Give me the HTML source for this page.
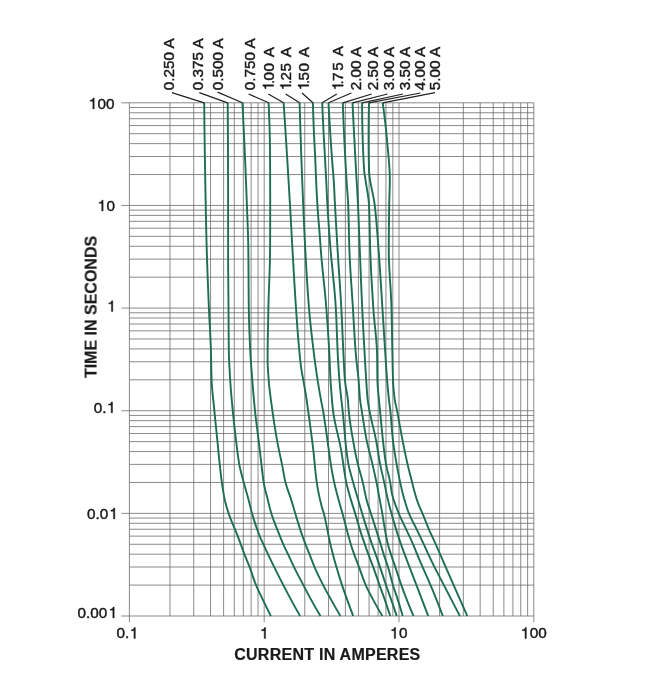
<!DOCTYPE html>
<html><head><meta charset="utf-8"><title>Time-current curves</title>
<style>
html,body{margin:0;padding:0;background:#fff;}
body{width:657px;height:694px;overflow:hidden;font-family:"Liberation Sans",sans-serif;}
svg{display:block;}
</style></head><body>
<svg width="657" height="694" viewBox="0 0 657 694">
<rect width="657" height="694" fill="#fff"/>
<path d="M129.4 102.8 V622.2 M169.98 102.8 V616 M193.72 102.8 V616 M210.56 102.8 V616 M223.62 102.8 V616 M234.29 102.8 V616 M243.32 102.8 V616 M251.14 102.8 V616 M258.03 102.8 V616 M264.2 102.8 V622.2 M304.78 102.8 V616 M328.52 102.8 V616 M345.36 102.8 V616 M358.42 102.8 V616 M369.09 102.8 V616 M378.12 102.8 V616 M385.94 102.8 V616 M392.83 102.8 V616 M399 102.8 V622.2 M439.58 102.8 V616 M463.32 102.8 V616 M480.16 102.8 V616 M493.22 102.8 V616 M503.89 102.8 V616 M512.92 102.8 V616 M520.74 102.8 V616 M527.63 102.8 V616 M533.8 102.8 V622.2 M121.4 102.8 H533.8 M129.4 107.5 H533.8 M129.4 112.75 H533.8 M129.4 118.7 H533.8 M129.4 125.57 H533.8 M129.4 133.7 H533.8 M129.4 143.64 H533.8 M129.4 156.47 H533.8 M129.4 174.54 H533.8 M121.4 205.44 H533.8 M129.4 210.14 H533.8 M129.4 215.39 H533.8 M129.4 221.34 H533.8 M129.4 228.21 H533.8 M129.4 236.34 H533.8 M129.4 246.28 H533.8 M129.4 259.11 H533.8 M129.4 277.18 H533.8 M121.4 308.08 H533.8 M129.4 312.78 H533.8 M129.4 318.03 H533.8 M129.4 323.98 H533.8 M129.4 330.85 H533.8 M129.4 338.98 H533.8 M129.4 348.92 H533.8 M129.4 361.75 H533.8 M129.4 379.82 H533.8 M121.4 410.72 H533.8 M129.4 415.42 H533.8 M129.4 420.67 H533.8 M129.4 426.62 H533.8 M129.4 433.49 H533.8 M129.4 441.62 H533.8 M129.4 451.56 H533.8 M129.4 464.39 H533.8 M129.4 482.46 H533.8 M121.4 513.36 H533.8 M129.4 518.06 H533.8 M129.4 523.31 H533.8 M129.4 529.26 H533.8 M129.4 536.13 H533.8 M129.4 544.26 H533.8 M129.4 554.2 H533.8 M129.4 567.03 H533.8 M129.4 585.1 H533.8 M121.4 616 H533.8" fill="none" stroke="#686868" stroke-width="0.78"/>
<path d="M204.2 102.6 L204.24 106.6 L204.27 110.6 L204.31 114.6 L204.36 118.6 L204.4 122.6 L204.45 126.6 L204.5 130.6 L204.55 134.6 L204.6 138.6 L204.66 142.6 L204.72 146.6 L204.77 150.6 L204.83 154.6 L204.9 158.6 L204.96 162.6 L205.02 166.6 L205.09 170.6 L205.16 174.6 L205.23 178.6 L205.3 182.6 L205.37 186.6 L205.44 190.6 L205.51 194.6 L205.58 198.6 L205.66 202.6 L205.73 206.6 L205.81 210.6 L205.89 214.6 L205.97 218.6 L206.06 222.6 L206.15 226.6 L206.25 230.6 L206.34 234.6 L206.45 238.6 L206.55 242.6 L206.66 246.6 L206.77 250.6 L206.89 254.6 L207.02 258.6 L207.15 262.6 L207.29 266.6 L207.43 270.6 L207.57 274.6 L207.72 278.6 L207.87 282.6 L208.03 286.6 L208.19 290.6 L208.35 294.6 L208.51 298.6 L208.68 302.6 L208.84 306.6 L209.01 310.6 L209.2 314.6 L209.4 318.6 L209.61 322.6 L209.83 326.6 L210.04 330.6 L210.25 334.6 L210.45 338.6 L210.63 342.6 L210.79 346.6 L210.92 350.6 L211.02 354.6 L211.11 358.6 L211.18 362.6 L211.26 366.6 L211.33 370.6 L211.43 374.6 L211.55 378.6 L211.72 382.6 L211.98 386.6 L212.31 390.6 L212.69 394.6 L213.11 398.6 L213.54 402.6 L213.96 406.6 L214.36 410.6 L214.74 414.6 L215.14 418.6 L215.54 422.6 L215.94 426.6 L216.35 430.6 L216.76 434.6 L217.16 438.6 L217.56 442.6 L217.95 446.6 L218.34 450.6 L218.73 454.6 L219.13 458.6 L219.54 462.6 L219.97 466.6 L220.41 470.6 L220.87 474.6 L221.35 478.6 L221.88 482.6 L222.45 486.6 L223.07 490.6 L223.74 494.6 L224.51 498.6 L225.4 502.6 L226.49 506.6 L227.72 510.6 L229.04 514.6 L230.53 518.6 L232.15 522.6 L233.84 526.6 L235.53 530.6 L237.14 534.6 L238.67 538.6 L240.17 542.6 L241.64 546.6 L243.09 550.6 L244.58 554.6 L246.18 558.6 L247.84 562.6 L249.45 566.6 L250.91 570.6 L252.27 574.6 L253.63 578.6 L255.06 582.6 L256.67 586.6 L258.46 590.6 L260.37 594.6 L262.32 598.6 L264.25 602.6 L266.2 606.6 L268.18 610.6 L270.19 614.6 L270.9 616" fill="none" stroke="#1d6e52" stroke-width="1.9" stroke-linejoin="round"/>
<path d="M227.7 102.6 L227.73 106.6 L227.75 110.6 L227.78 114.6 L227.8 118.6 L227.83 122.6 L227.85 126.6 L227.87 130.6 L227.89 134.6 L227.91 138.6 L227.93 142.6 L227.95 146.6 L227.97 150.6 L227.99 154.6 L228 158.6 L228.02 162.6 L228.03 166.6 L228.05 170.6 L228.06 174.6 L228.07 178.6 L228.08 182.6 L228.08 186.6 L228.09 190.6 L228.09 194.6 L228.1 198.6 L228.1 202.6 L228.1 206.6 L228.1 210.6 L228.1 214.6 L228.1 218.6 L228.1 222.6 L228.1 226.6 L228.1 230.6 L228.1 234.6 L228.1 238.6 L228.1 242.6 L228.1 246.6 L228.1 250.6 L228.11 254.6 L228.12 258.6 L228.14 262.6 L228.16 266.6 L228.19 270.6 L228.22 274.6 L228.25 278.6 L228.29 282.6 L228.32 286.6 L228.36 290.6 L228.39 294.6 L228.43 298.6 L228.46 302.6 L228.49 306.6 L228.52 310.6 L228.54 314.6 L228.56 318.6 L228.58 322.6 L228.61 326.6 L228.63 330.6 L228.65 334.6 L228.68 338.6 L228.72 342.6 L228.76 346.6 L228.81 350.6 L228.9 354.6 L229.03 358.6 L229.2 362.6 L229.41 366.6 L229.63 370.6 L229.87 374.6 L230.12 378.6 L230.36 382.6 L230.64 386.6 L230.95 390.6 L231.28 394.6 L231.64 398.6 L232 402.6 L232.38 406.6 L232.76 410.6 L233.15 414.6 L233.56 418.6 L233.98 422.6 L234.43 426.6 L234.88 430.6 L235.35 434.6 L235.83 438.6 L236.31 442.6 L236.79 446.6 L237.28 450.6 L237.8 454.6 L238.36 458.6 L238.99 462.6 L239.7 466.6 L240.59 470.6 L241.61 474.6 L242.69 478.6 L243.76 482.6 L244.85 486.6 L245.98 490.6 L247.12 494.6 L248.23 498.6 L249.26 502.6 L250.24 506.6 L251.24 510.6 L252.36 514.6 L253.57 518.6 L254.85 522.6 L256.21 526.6 L257.64 530.6 L259.14 534.6 L260.81 538.6 L262.62 542.6 L264.45 546.6 L266.31 550.6 L268.19 554.6 L270.11 558.6 L272.04 562.6 L274 566.6 L275.99 570.6 L277.99 574.6 L280.02 578.6 L282.06 582.6 L284.13 586.6 L286.21 590.6 L288.31 594.6 L290.45 598.6 L292.61 602.6 L294.81 606.6 L297.04 610.6 L299.3 614.6 L300.1 616" fill="none" stroke="#1d6e52" stroke-width="1.9" stroke-linejoin="round"/>
<path d="M242.4 102.6 L242.61 106.6 L242.81 110.6 L243.01 114.6 L243.21 118.6 L243.41 122.6 L243.6 126.6 L243.79 130.6 L243.98 134.6 L244.16 138.6 L244.35 142.6 L244.53 146.6 L244.71 150.6 L244.88 154.6 L245.05 158.6 L245.23 162.6 L245.39 166.6 L245.56 170.6 L245.72 174.6 L245.89 178.6 L246.05 182.6 L246.2 186.6 L246.36 190.6 L246.51 194.6 L246.66 198.6 L246.81 202.6 L246.96 206.6 L247.11 210.6 L247.27 214.6 L247.42 218.6 L247.58 222.6 L247.73 226.6 L247.87 230.6 L248 234.6 L248.11 238.6 L248.2 242.6 L248.28 246.6 L248.33 250.6 L248.38 254.6 L248.42 258.6 L248.45 262.6 L248.48 266.6 L248.51 270.6 L248.53 274.6 L248.55 278.6 L248.58 282.6 L248.6 286.6 L248.63 290.6 L248.66 294.6 L248.69 298.6 L248.73 302.6 L248.78 306.6 L248.84 310.6 L248.92 314.6 L249.01 318.6 L249.12 322.6 L249.25 326.6 L249.39 330.6 L249.54 334.6 L249.7 338.6 L249.87 342.6 L250.05 346.6 L250.23 350.6 L250.44 354.6 L250.68 358.6 L250.96 362.6 L251.25 366.6 L251.56 370.6 L251.88 374.6 L252.19 378.6 L252.5 382.6 L252.82 386.6 L253.14 390.6 L253.47 394.6 L253.82 398.6 L254.18 402.6 L254.56 406.6 L254.96 410.6 L255.4 414.6 L255.87 418.6 L256.37 422.6 L256.89 426.6 L257.41 430.6 L257.93 434.6 L258.43 438.6 L258.91 442.6 L259.37 446.6 L259.83 450.6 L260.29 454.6 L260.75 458.6 L261.21 462.6 L261.69 466.6 L262.14 470.6 L262.59 474.6 L263.1 478.6 L263.7 482.6 L264.48 486.6 L265.41 490.6 L266.42 494.6 L267.45 498.6 L268.44 502.6 L269.43 506.6 L270.5 510.6 L271.7 514.6 L273.07 518.6 L274.56 522.6 L276.13 526.6 L277.74 530.6 L279.34 534.6 L280.93 538.6 L282.57 542.6 L284.34 546.6 L286.27 550.6 L288.19 554.6 L290.05 558.6 L291.9 562.6 L293.8 566.6 L295.79 570.6 L297.84 574.6 L299.93 578.6 L302.04 582.6 L304.14 586.6 L306.25 590.6 L308.37 594.6 L310.53 598.6 L312.74 602.6 L314.98 606.6 L317.26 610.6 L319.58 614.6 L320.4 616" fill="none" stroke="#1d6e52" stroke-width="1.9" stroke-linejoin="round"/>
<path d="M268.6 102.6 L268.77 106.6 L268.93 110.6 L269.09 114.6 L269.24 118.6 L269.38 122.6 L269.52 126.6 L269.64 130.6 L269.75 134.6 L269.84 138.6 L269.91 142.6 L269.97 146.6 L270 150.6 L270.03 154.6 L270.05 158.6 L270.08 162.6 L270.1 166.6 L270.12 170.6 L270.13 174.6 L270.15 178.6 L270.16 182.6 L270.17 186.6 L270.18 190.6 L270.19 194.6 L270.2 198.6 L270.2 202.6 L270.2 206.6 L270.2 210.6 L270.19 214.6 L270.19 218.6 L270.18 222.6 L270.17 226.6 L270.16 230.6 L270.15 234.6 L270.14 238.6 L270.12 242.6 L270.11 246.6 L270.08 250.6 L270.03 254.6 L269.96 258.6 L269.87 262.6 L269.75 266.6 L269.63 270.6 L269.49 274.6 L269.35 278.6 L269.2 282.6 L269.05 286.6 L268.9 290.6 L268.77 294.6 L268.64 298.6 L268.53 302.6 L268.43 306.6 L268.35 310.6 L268.26 314.6 L268.18 318.6 L268.1 322.6 L268.01 326.6 L267.93 330.6 L267.86 334.6 L267.79 338.6 L267.73 342.6 L267.68 346.6 L267.64 350.6 L267.61 354.6 L267.6 358.6 L267.63 362.6 L267.77 366.6 L268.01 370.6 L268.29 374.6 L268.6 378.6 L268.91 382.6 L269.29 386.6 L269.73 390.6 L270.22 394.6 L270.74 398.6 L271.28 402.6 L271.83 406.6 L272.38 410.6 L272.94 414.6 L273.52 418.6 L274.12 422.6 L274.74 426.6 L275.39 430.6 L276.06 434.6 L276.75 438.6 L277.48 442.6 L278.26 446.6 L279.08 450.6 L279.93 454.6 L280.78 458.6 L281.62 462.6 L282.41 466.6 L283.14 470.6 L283.86 474.6 L284.64 478.6 L285.55 482.6 L286.71 486.6 L288.06 490.6 L289.49 494.6 L290.86 498.6 L292.08 502.6 L293.24 506.6 L294.39 510.6 L295.59 514.6 L296.81 518.6 L298.05 522.6 L299.32 526.6 L300.62 530.6 L301.96 534.6 L303.37 538.6 L304.85 542.6 L306.41 546.6 L308.05 550.6 L309.68 554.6 L311.21 558.6 L312.73 562.6 L314.33 566.6 L316.08 570.6 L317.94 574.6 L319.88 578.6 L321.88 582.6 L323.93 586.6 L326.07 590.6 L328.28 594.6 L330.52 598.6 L332.75 602.6 L335.01 606.6 L337.29 610.6 L339.59 614.6 L340.4 616" fill="none" stroke="#1d6e52" stroke-width="1.9" stroke-linejoin="round"/>
<path d="M283.6 102.6 L283.87 106.6 L284.14 110.6 L284.4 114.6 L284.66 118.6 L284.93 122.6 L285.19 126.6 L285.44 130.6 L285.7 134.6 L285.96 138.6 L286.21 142.6 L286.46 146.6 L286.71 150.6 L286.96 154.6 L287.21 158.6 L287.46 162.6 L287.71 166.6 L287.95 170.6 L288.19 174.6 L288.43 178.6 L288.67 182.6 L288.91 186.6 L289.15 190.6 L289.39 194.6 L289.62 198.6 L289.86 202.6 L290.09 206.6 L290.32 210.6 L290.55 214.6 L290.77 218.6 L290.99 222.6 L291.2 226.6 L291.42 230.6 L291.64 234.6 L291.86 238.6 L292.08 242.6 L292.31 246.6 L292.53 250.6 L292.76 254.6 L292.99 258.6 L293.22 262.6 L293.45 266.6 L293.68 270.6 L293.91 274.6 L294.15 278.6 L294.38 282.6 L294.63 286.6 L294.87 290.6 L295.12 294.6 L295.37 298.6 L295.64 302.6 L295.9 306.6 L296.18 310.6 L296.45 314.6 L296.73 318.6 L297.02 322.6 L297.31 326.6 L297.61 330.6 L297.91 334.6 L298.23 338.6 L298.57 342.6 L298.91 346.6 L299.28 350.6 L299.66 354.6 L300.07 358.6 L300.52 362.6 L301.03 366.6 L301.59 370.6 L302.29 374.6 L303.05 378.6 L303.76 382.6 L304.46 386.6 L305.15 390.6 L305.79 394.6 L306.41 398.6 L306.99 402.6 L307.56 406.6 L308.13 410.6 L308.69 414.6 L309.24 418.6 L309.78 422.6 L310.31 426.6 L310.84 430.6 L311.37 434.6 L311.89 438.6 L312.4 442.6 L312.9 446.6 L313.37 450.6 L313.8 454.6 L314.2 458.6 L314.58 462.6 L314.96 466.6 L315.35 470.6 L315.77 474.6 L316.25 478.6 L316.79 482.6 L317.41 486.6 L318.12 490.6 L318.92 494.6 L319.78 498.6 L320.71 502.6 L321.74 506.6 L323 510.6 L324.1 514.6 L325.05 518.6 L325.92 522.6 L326.74 526.6 L327.54 530.6 L328.33 534.6 L329.15 538.6 L330.01 542.6 L330.94 546.6 L331.93 550.6 L332.95 554.6 L334.02 558.6 L335.13 562.6 L336.28 566.6 L337.47 570.6 L338.68 574.6 L339.93 578.6 L341.21 582.6 L342.54 586.6 L343.92 590.6 L345.35 594.6 L346.79 598.6 L348.24 602.6 L349.7 606.6 L351.18 610.6 L352.67 614.6 L353.2 616" fill="none" stroke="#1d6e52" stroke-width="1.9" stroke-linejoin="round"/>
<path d="M299.6 102.6 L299.71 106.6 L299.82 110.6 L299.94 114.6 L300.06 118.6 L300.18 122.6 L300.31 126.6 L300.43 130.6 L300.56 134.6 L300.7 138.6 L300.83 142.6 L300.97 146.6 L301.11 150.6 L301.25 154.6 L301.4 158.6 L301.54 162.6 L301.69 166.6 L301.84 170.6 L301.99 174.6 L302.15 178.6 L302.3 182.6 L302.46 186.6 L302.62 190.6 L302.78 194.6 L302.94 198.6 L303.1 202.6 L303.27 206.6 L303.43 210.6 L303.6 214.6 L303.78 218.6 L303.95 222.6 L304.14 226.6 L304.32 230.6 L304.52 234.6 L304.71 238.6 L304.91 242.6 L305.12 246.6 L305.33 250.6 L305.55 254.6 L305.77 258.6 L305.99 262.6 L306.21 266.6 L306.44 270.6 L306.68 274.6 L306.93 278.6 L307.18 282.6 L307.44 286.6 L307.71 290.6 L307.98 294.6 L308.27 298.6 L308.57 302.6 L308.89 306.6 L309.22 310.6 L309.57 314.6 L309.95 318.6 L310.35 322.6 L310.76 326.6 L311.2 330.6 L311.65 334.6 L312.11 338.6 L312.59 342.6 L313.07 346.6 L313.56 350.6 L314.05 354.6 L314.56 358.6 L315.08 362.6 L315.63 366.6 L316.2 370.6 L316.78 374.6 L317.39 378.6 L318.01 382.6 L318.66 386.6 L319.33 390.6 L320.03 394.6 L320.75 398.6 L321.49 402.6 L322.29 406.6 L323.03 410.6 L323.7 414.6 L324.33 418.6 L324.93 422.6 L325.52 426.6 L326.09 430.6 L326.65 434.6 L327.2 438.6 L327.75 442.6 L328.31 446.6 L328.89 450.6 L329.44 454.6 L330 458.6 L330.58 462.6 L331.22 466.6 L331.9 470.6 L332.63 474.6 L333.4 478.6 L334.23 482.6 L335.14 486.6 L336.12 490.6 L337.17 494.6 L338.24 498.6 L339.34 502.6 L340.45 506.6 L341.61 510.6 L342.75 514.6 L343.83 518.6 L344.88 522.6 L345.92 526.6 L346.96 530.6 L348.03 534.6 L349.13 538.6 L350.29 542.6 L351.52 546.6 L352.86 550.6 L354.27 554.6 L355.76 558.6 L357.31 562.6 L358.85 566.6 L360.32 570.6 L361.73 574.6 L363.17 578.6 L364.7 582.6 L366.41 586.6 L368.34 590.6 L370.41 594.6 L372.55 598.6 L374.7 602.6 L376.9 606.6 L379.16 610.6 L381.48 614.6 L382.3 616" fill="none" stroke="#1d6e52" stroke-width="1.9" stroke-linejoin="round"/>
<path d="M312.9 102.6 L313.01 106.6 L313.13 110.6 L313.25 114.6 L313.39 118.6 L313.53 122.6 L313.68 126.6 L313.85 130.6 L314.03 134.6 L314.23 138.6 L314.43 142.6 L314.64 146.6 L314.85 150.6 L315.05 154.6 L315.24 158.6 L315.41 162.6 L315.57 166.6 L315.72 170.6 L315.87 174.6 L316.04 178.6 L316.22 182.6 L316.41 186.6 L316.6 190.6 L316.81 194.6 L317.03 198.6 L317.26 202.6 L317.5 206.6 L317.77 210.6 L318.07 214.6 L318.38 218.6 L318.71 222.6 L319.04 226.6 L319.37 230.6 L319.69 234.6 L320 238.6 L320.28 242.6 L320.55 246.6 L320.85 250.6 L321.18 254.6 L321.53 258.6 L321.9 262.6 L322.29 266.6 L322.69 270.6 L323.1 274.6 L323.51 278.6 L323.93 282.6 L324.34 286.6 L324.74 290.6 L325.13 294.6 L325.5 298.6 L325.86 302.6 L326.19 306.6 L326.5 310.6 L326.8 314.6 L327.1 318.6 L327.39 322.6 L327.67 326.6 L327.94 330.6 L328.2 334.6 L328.46 338.6 L328.71 342.6 L328.94 346.6 L329.17 350.6 L329.38 354.6 L329.57 358.6 L329.74 362.6 L329.9 366.6 L330.06 370.6 L330.23 374.6 L330.42 378.6 L330.65 382.6 L330.92 386.6 L331.22 390.6 L331.54 394.6 L331.88 398.6 L332.22 402.6 L332.59 406.6 L333.02 410.6 L333.59 414.6 L334.29 418.6 L335.08 422.6 L335.95 426.6 L336.86 430.6 L337.8 434.6 L338.73 438.6 L339.62 442.6 L340.46 446.6 L341.21 450.6 L341.87 454.6 L342.49 458.6 L343.07 462.6 L343.64 466.6 L344.23 470.6 L344.86 474.6 L345.55 478.6 L346.32 482.6 L347.25 486.6 L348.29 490.6 L349.39 494.6 L350.54 498.6 L351.76 502.6 L353.02 506.6 L354.27 510.6 L355.48 514.6 L356.64 518.6 L357.79 522.6 L358.96 526.6 L360.19 530.6 L361.49 534.6 L362.84 538.6 L364.21 542.6 L365.6 546.6 L367.02 550.6 L368.47 554.6 L369.99 558.6 L371.54 562.6 L373.05 566.6 L374.49 570.6 L375.89 574.6 L377.27 578.6 L378.66 582.6 L380.07 586.6 L381.52 590.6 L382.98 594.6 L384.41 598.6 L385.79 602.6 L387.14 606.6 L388.46 610.6 L389.76 614.6 L390.2 616" fill="none" stroke="#1d6e52" stroke-width="1.9" stroke-linejoin="round"/>
<path d="M322.2 102.6 L322.37 106.6 L322.54 110.6 L322.72 114.6 L322.9 118.6 L323.09 122.6 L323.28 126.6 L323.48 130.6 L323.69 134.6 L323.91 138.6 L324.13 142.6 L324.35 146.6 L324.58 150.6 L324.8 154.6 L325.02 158.6 L325.24 162.6 L325.47 166.6 L325.69 170.6 L325.91 174.6 L326.13 178.6 L326.33 182.6 L326.52 186.6 L326.7 190.6 L326.88 194.6 L327.07 198.6 L327.27 202.6 L327.49 206.6 L327.73 210.6 L327.98 214.6 L328.25 218.6 L328.52 222.6 L328.81 226.6 L329.1 230.6 L329.4 234.6 L329.7 238.6 L330 242.6 L330.32 246.6 L330.65 250.6 L331 254.6 L331.37 258.6 L331.75 262.6 L332.15 266.6 L332.55 270.6 L332.95 274.6 L333.35 278.6 L333.75 282.6 L334.13 286.6 L334.5 290.6 L334.84 294.6 L335.16 298.6 L335.46 302.6 L335.72 306.6 L335.94 310.6 L336.14 314.6 L336.33 318.6 L336.49 322.6 L336.65 326.6 L336.8 330.6 L336.94 334.6 L337.09 338.6 L337.24 342.6 L337.41 346.6 L337.58 350.6 L337.78 354.6 L337.99 358.6 L338.22 362.6 L338.46 366.6 L338.72 370.6 L338.99 374.6 L339.29 378.6 L339.62 382.6 L339.99 386.6 L340.39 390.6 L340.81 394.6 L341.25 398.6 L341.69 402.6 L342.17 406.6 L342.62 410.6 L343.03 414.6 L343.41 418.6 L343.77 422.6 L344.13 426.6 L344.48 430.6 L344.83 434.6 L345.2 438.6 L345.59 442.6 L346.01 446.6 L346.47 450.6 L346.97 454.6 L347.52 458.6 L348.15 462.6 L348.92 466.6 L349.87 470.6 L350.94 474.6 L352.06 478.6 L353.16 482.6 L354.28 486.6 L355.44 490.6 L356.62 494.6 L357.79 498.6 L358.95 502.6 L360.11 506.6 L361.28 510.6 L362.48 514.6 L363.71 518.6 L364.95 522.6 L366.22 526.6 L367.49 530.6 L368.78 534.6 L370.08 538.6 L371.41 542.6 L372.82 546.6 L374.31 550.6 L375.77 554.6 L377.16 558.6 L378.52 562.6 L379.87 566.6 L381.2 570.6 L382.53 574.6 L383.85 578.6 L385.18 582.6 L386.55 586.6 L387.97 590.6 L389.4 594.6 L390.81 598.6 L392.19 602.6 L393.56 606.6 L394.91 610.6 L396.24 614.6 L396.7 616" fill="none" stroke="#1d6e52" stroke-width="1.9" stroke-linejoin="round"/>
<path d="M328.5 102.6 L328.7 106.6 L328.92 110.6 L329.14 114.6 L329.37 118.6 L329.6 122.6 L329.85 126.6 L330.1 130.6 L330.36 134.6 L330.62 138.6 L330.89 142.6 L331.16 146.6 L331.43 150.6 L331.72 154.6 L332 158.6 L332.3 162.6 L332.63 166.6 L332.97 170.6 L333.31 174.6 L333.61 178.6 L333.86 182.6 L334.08 186.6 L334.29 190.6 L334.48 194.6 L334.67 198.6 L334.87 202.6 L335.09 206.6 L335.31 210.6 L335.53 214.6 L335.76 218.6 L335.99 222.6 L336.22 226.6 L336.45 230.6 L336.68 234.6 L336.92 238.6 L337.15 242.6 L337.39 246.6 L337.64 250.6 L337.89 254.6 L338.14 258.6 L338.41 262.6 L338.67 266.6 L338.94 270.6 L339.21 274.6 L339.48 278.6 L339.75 282.6 L340.01 286.6 L340.27 290.6 L340.52 294.6 L340.76 298.6 L341 302.6 L341.22 306.6 L341.44 310.6 L341.64 314.6 L341.83 318.6 L342.02 322.6 L342.2 326.6 L342.37 330.6 L342.55 334.6 L342.73 338.6 L342.9 342.6 L343.09 346.6 L343.28 350.6 L343.48 354.6 L343.68 358.6 L343.87 362.6 L344.06 366.6 L344.26 370.6 L344.5 374.6 L344.79 378.6 L345.17 382.6 L345.77 386.6 L346.47 390.6 L347.17 394.6 L347.75 398.6 L348.12 402.6 L348.4 406.6 L348.72 410.6 L349.14 414.6 L349.63 418.6 L350.16 422.6 L350.75 426.6 L351.38 430.6 L352.04 434.6 L352.74 438.6 L353.45 442.6 L354.18 446.6 L354.91 450.6 L355.7 454.6 L356.56 458.6 L357.47 462.6 L358.45 466.6 L359.55 470.6 L360.7 474.6 L361.82 478.6 L362.85 482.6 L363.73 486.6 L364.53 490.6 L365.34 494.6 L366.25 498.6 L367.34 502.6 L368.64 506.6 L370.01 510.6 L371.31 514.6 L372.59 518.6 L373.86 522.6 L375.12 526.6 L376.39 530.6 L377.66 534.6 L378.93 538.6 L380.18 542.6 L381.39 546.6 L382.55 550.6 L383.76 554.6 L385.12 558.6 L386.54 562.6 L387.88 566.6 L389.04 570.6 L390.1 574.6 L391.13 578.6 L392.2 582.6 L393.39 586.6 L394.72 590.6 L396.1 594.6 L397.45 598.6 L398.72 602.6 L399.94 606.6 L401.14 610.6 L402.3 614.6 L402.7 616" fill="none" stroke="#1d6e52" stroke-width="1.9" stroke-linejoin="round"/>
<path d="M342.8 102.6 L342.93 106.6 L343.08 110.6 L343.23 114.6 L343.38 118.6 L343.55 122.6 L343.72 126.6 L343.9 130.6 L344.08 134.6 L344.27 138.6 L344.47 142.6 L344.67 146.6 L344.88 150.6 L345.08 154.6 L345.3 158.6 L345.52 162.6 L345.74 166.6 L345.96 170.6 L346.19 174.6 L346.42 178.6 L346.66 182.6 L346.95 186.6 L347.26 190.6 L347.57 194.6 L347.85 198.6 L348.09 202.6 L348.26 206.6 L348.4 210.6 L348.52 214.6 L348.62 218.6 L348.72 222.6 L348.8 226.6 L348.88 230.6 L348.97 234.6 L349.06 238.6 L349.17 242.6 L349.28 246.6 L349.42 250.6 L349.58 254.6 L349.77 258.6 L349.97 262.6 L350.19 266.6 L350.43 270.6 L350.68 274.6 L350.94 278.6 L351.2 282.6 L351.47 286.6 L351.75 290.6 L352.02 294.6 L352.29 298.6 L352.56 302.6 L352.81 306.6 L353.06 310.6 L353.3 314.6 L353.53 318.6 L353.76 322.6 L353.99 326.6 L354.23 330.6 L354.47 334.6 L354.72 338.6 L354.98 342.6 L355.26 346.6 L355.55 350.6 L355.87 354.6 L356.23 358.6 L356.66 362.6 L357.13 366.6 L357.6 370.6 L358.06 374.6 L358.47 378.6 L358.81 382.6 L359.09 386.6 L359.35 390.6 L359.62 394.6 L359.96 398.6 L360.43 402.6 L361.06 406.6 L361.73 410.6 L362.36 414.6 L362.97 418.6 L363.59 422.6 L364.23 426.6 L364.89 430.6 L365.58 434.6 L366.33 438.6 L367.14 442.6 L368.06 446.6 L369.04 450.6 L370.07 454.6 L371.09 458.6 L372.07 462.6 L373 466.6 L373.92 470.6 L374.83 474.6 L375.7 478.6 L376.54 482.6 L377.33 486.6 L378.08 490.6 L378.81 494.6 L379.54 498.6 L380.29 502.6 L381.04 506.6 L381.77 510.6 L382.47 514.6 L383.13 518.6 L383.76 522.6 L384.41 526.6 L385.11 530.6 L385.85 534.6 L386.62 538.6 L387.49 542.6 L388.52 546.6 L389.76 550.6 L391.06 554.6 L392.4 558.6 L393.79 562.6 L395.16 566.6 L396.5 570.6 L397.8 574.6 L399.11 578.6 L400.46 582.6 L401.88 586.6 L403.34 590.6 L404.84 594.6 L406.37 598.6 L407.95 602.6 L409.56 606.6 L411.21 610.6 L412.9 614.6 L413.5 616" fill="none" stroke="#1d6e52" stroke-width="1.9" stroke-linejoin="round"/>
<path d="M352.5 102.6 L352.69 106.6 L352.89 110.6 L353.09 114.6 L353.29 118.6 L353.49 122.6 L353.7 126.6 L353.9 130.6 L354.11 134.6 L354.32 138.6 L354.53 142.6 L354.74 146.6 L354.95 150.6 L355.17 154.6 L355.38 158.6 L355.6 162.6 L355.81 166.6 L356.03 170.6 L356.26 174.6 L356.49 178.6 L356.74 182.6 L356.98 186.6 L357.22 190.6 L357.45 194.6 L357.67 198.6 L357.88 202.6 L358.07 206.6 L358.26 210.6 L358.43 214.6 L358.59 218.6 L358.75 222.6 L358.9 226.6 L359.06 230.6 L359.21 234.6 L359.36 238.6 L359.51 242.6 L359.66 246.6 L359.82 250.6 L359.99 254.6 L360.15 258.6 L360.3 262.6 L360.46 266.6 L360.62 270.6 L360.78 274.6 L360.94 278.6 L361.1 282.6 L361.27 286.6 L361.43 290.6 L361.6 294.6 L361.77 298.6 L361.95 302.6 L362.13 306.6 L362.32 310.6 L362.52 314.6 L362.72 318.6 L362.92 322.6 L363.13 326.6 L363.34 330.6 L363.56 334.6 L363.78 338.6 L364 342.6 L364.23 346.6 L364.45 350.6 L364.68 354.6 L364.9 358.6 L365.13 362.6 L365.37 366.6 L365.6 370.6 L365.85 374.6 L366.11 378.6 L366.37 382.6 L366.62 386.6 L366.89 390.6 L367.19 394.6 L367.56 398.6 L368.03 402.6 L368.7 406.6 L369.44 410.6 L370.23 414.6 L371.11 418.6 L372.05 422.6 L373.01 426.6 L373.96 430.6 L374.87 434.6 L375.72 438.6 L376.48 442.6 L377.17 446.6 L377.82 450.6 L378.46 454.6 L379.12 458.6 L379.83 462.6 L380.63 466.6 L381.5 470.6 L382.42 474.6 L383.34 478.6 L384.24 482.6 L385.1 486.6 L385.94 490.6 L386.79 494.6 L387.68 498.6 L388.62 502.6 L389.61 506.6 L390.66 510.6 L391.74 514.6 L392.87 518.6 L394.04 522.6 L395.25 526.6 L396.49 530.6 L397.76 534.6 L399.06 538.6 L400.41 542.6 L401.81 546.6 L403.28 550.6 L404.77 554.6 L406.28 558.6 L407.81 562.6 L409.35 566.6 L410.88 570.6 L412.41 574.6 L413.95 578.6 L415.48 582.6 L417.01 586.6 L418.54 590.6 L420.06 594.6 L421.59 598.6 L423.11 602.6 L424.63 606.6 L426.15 610.6 L427.67 614.6 L428.2 616" fill="none" stroke="#1d6e52" stroke-width="1.9" stroke-linejoin="round"/>
<path d="M362.1 102.6 L362.11 106.6 L362.13 110.6 L362.17 114.6 L362.22 118.6 L362.28 122.6 L362.36 126.6 L362.45 130.6 L362.56 134.6 L362.68 138.6 L362.81 142.6 L362.96 146.6 L363.12 150.6 L363.3 154.6 L363.49 158.6 L363.69 162.6 L363.91 166.6 L364.14 170.6 L364.63 174.6 L365.29 178.6 L365.89 182.6 L366.54 186.6 L367.22 190.6 L367.87 194.6 L368.43 198.6 L368.84 202.6 L369.07 206.6 L369.24 210.6 L369.37 214.6 L369.48 218.6 L369.57 222.6 L369.65 226.6 L369.73 230.6 L369.81 234.6 L369.89 238.6 L369.98 242.6 L370.09 246.6 L370.22 250.6 L370.37 254.6 L370.53 258.6 L370.71 262.6 L370.89 266.6 L371.09 270.6 L371.3 274.6 L371.51 278.6 L371.74 282.6 L371.97 286.6 L372.21 290.6 L372.45 294.6 L372.7 298.6 L372.95 302.6 L373.21 306.6 L373.48 310.6 L373.8 314.6 L374.17 318.6 L374.56 322.6 L374.97 326.6 L375.38 330.6 L375.77 334.6 L376.14 338.6 L376.47 342.6 L376.75 346.6 L376.96 350.6 L377.09 354.6 L377.16 358.6 L377.2 362.6 L377.24 366.6 L377.27 370.6 L377.31 374.6 L377.37 378.6 L377.49 382.6 L377.74 386.6 L378.09 390.6 L378.48 394.6 L378.87 398.6 L379.24 402.6 L379.63 406.6 L380.02 410.6 L380.4 414.6 L380.78 418.6 L381.15 422.6 L381.53 426.6 L381.92 430.6 L382.32 434.6 L382.74 438.6 L383.19 442.6 L383.64 446.6 L384.11 450.6 L384.62 454.6 L385.16 458.6 L385.77 462.6 L386.49 466.6 L387.41 470.6 L388.41 474.6 L389.4 478.6 L390.24 482.6 L390.86 486.6 L391.42 490.6 L392.11 494.6 L393.2 498.6 L394.62 502.6 L396.08 506.6 L397.62 510.6 L399.28 514.6 L401.09 518.6 L402.98 522.6 L404.9 526.6 L406.78 530.6 L408.66 534.6 L410.54 538.6 L412.36 542.6 L414.06 546.6 L415.66 550.6 L417.28 554.6 L418.97 558.6 L420.69 562.6 L422.43 566.6 L424.18 570.6 L425.96 574.6 L427.74 578.6 L429.48 582.6 L431.17 586.6 L432.83 590.6 L434.46 594.6 L436.08 598.6 L437.67 602.6 L439.24 606.6 L440.77 610.6 L442.28 614.6 L442.8 616" fill="none" stroke="#1d6e52" stroke-width="1.9" stroke-linejoin="round"/>
<path d="M369 102.6 L368.91 106.6 L368.83 110.6 L368.77 114.6 L368.72 118.6 L368.68 122.6 L368.64 126.6 L368.62 130.6 L368.61 134.6 L368.6 138.6 L368.6 142.6 L368.62 146.6 L368.66 150.6 L368.7 154.6 L368.76 158.6 L368.84 162.6 L368.92 166.6 L369.02 170.6 L369.29 174.6 L369.8 178.6 L370.48 182.6 L371.27 186.6 L372.11 190.6 L372.95 194.6 L373.73 198.6 L374.39 202.6 L374.88 206.6 L375.31 210.6 L375.72 214.6 L376.1 218.6 L376.46 222.6 L376.8 226.6 L377.12 230.6 L377.44 234.6 L377.75 238.6 L378.05 242.6 L378.35 246.6 L378.64 250.6 L378.94 254.6 L379.22 258.6 L379.5 262.6 L379.77 266.6 L380.04 270.6 L380.29 274.6 L380.55 278.6 L380.8 282.6 L381.05 286.6 L381.3 290.6 L381.55 294.6 L381.8 298.6 L382.05 302.6 L382.31 306.6 L382.57 310.6 L382.82 314.6 L383.08 318.6 L383.33 322.6 L383.58 326.6 L383.83 330.6 L384.09 334.6 L384.34 338.6 L384.6 342.6 L384.85 346.6 L385.11 350.6 L385.37 354.6 L385.63 358.6 L385.89 362.6 L386.15 366.6 L386.41 370.6 L386.69 374.6 L386.99 378.6 L387.31 382.6 L387.66 386.6 L388.03 390.6 L388.43 394.6 L388.85 398.6 L389.31 402.6 L389.84 406.6 L390.32 410.6 L390.71 414.6 L391.06 418.6 L391.37 422.6 L391.68 426.6 L392 430.6 L392.35 434.6 L392.75 438.6 L393.21 442.6 L393.75 446.6 L394.35 450.6 L394.99 454.6 L395.67 458.6 L396.36 462.6 L397.06 466.6 L397.81 470.6 L398.59 474.6 L399.4 478.6 L400.24 482.6 L401.11 486.6 L402.02 490.6 L403 494.6 L404.07 498.6 L405.25 502.6 L406.52 506.6 L407.89 510.6 L409.46 514.6 L411.29 518.6 L413.29 522.6 L415.32 526.6 L417.29 530.6 L419.21 534.6 L421.12 538.6 L423.01 542.6 L424.85 546.6 L426.66 550.6 L428.49 554.6 L430.39 558.6 L432.33 562.6 L434.3 566.6 L436.32 570.6 L438.38 574.6 L440.46 578.6 L442.55 582.6 L444.63 586.6 L446.7 590.6 L448.78 594.6 L450.85 598.6 L452.93 602.6 L455.01 606.6 L457.09 610.6 L459.17 614.6 L459.9 616" fill="none" stroke="#1d6e52" stroke-width="1.9" stroke-linejoin="round"/>
<path d="M382.7 102.6 L383.24 106.6 L383.76 110.6 L384.27 114.6 L384.76 118.6 L385.23 122.6 L385.68 126.6 L386.1 130.6 L386.5 134.6 L386.88 138.6 L387.23 142.6 L387.61 146.6 L387.99 150.6 L388.36 154.6 L388.72 158.6 L389.04 162.6 L389.33 166.6 L389.56 170.6 L389.72 174.6 L389.79 178.6 L389.79 182.6 L389.71 186.6 L389.6 190.6 L389.47 194.6 L389.35 198.6 L389.24 202.6 L389.18 206.6 L389.12 210.6 L389.07 214.6 L389.02 218.6 L388.98 222.6 L388.93 226.6 L388.89 230.6 L388.86 234.6 L388.83 238.6 L388.82 242.6 L388.8 246.6 L388.8 250.6 L388.84 254.6 L388.93 258.6 L389.07 262.6 L389.25 266.6 L389.45 270.6 L389.68 274.6 L389.93 278.6 L390.19 282.6 L390.44 286.6 L390.69 290.6 L390.92 294.6 L391.13 298.6 L391.32 302.6 L391.46 306.6 L391.57 310.6 L391.66 314.6 L391.75 318.6 L391.82 322.6 L391.9 326.6 L391.97 330.6 L392.03 334.6 L392.1 338.6 L392.16 342.6 L392.23 346.6 L392.31 350.6 L392.39 354.6 L392.47 358.6 L392.55 362.6 L392.63 366.6 L392.72 370.6 L392.82 374.6 L392.95 378.6 L393.12 382.6 L393.38 386.6 L393.72 390.6 L394.14 394.6 L394.62 398.6 L395.24 402.6 L396.14 406.6 L397.04 410.6 L397.82 414.6 L398.57 418.6 L399.29 422.6 L400.01 426.6 L400.73 430.6 L401.47 434.6 L402.23 438.6 L403.01 442.6 L403.81 446.6 L404.62 450.6 L405.45 454.6 L406.3 458.6 L407.18 462.6 L408.11 466.6 L409.08 470.6 L410.09 474.6 L411.12 478.6 L412.15 482.6 L413.16 486.6 L414.18 490.6 L415.28 494.6 L416.52 498.6 L417.9 502.6 L419.45 506.6 L421.24 510.6 L422.97 514.6 L424.58 518.6 L426.16 522.6 L427.77 526.6 L429.46 530.6 L431.28 534.6 L433.16 538.6 L435.03 542.6 L436.82 546.6 L438.55 550.6 L440.29 554.6 L442.03 558.6 L443.78 562.6 L445.52 566.6 L447.28 570.6 L449.03 574.6 L450.79 578.6 L452.54 582.6 L454.3 586.6 L456.07 590.6 L457.83 594.6 L459.6 598.6 L461.36 602.6 L463.13 606.6 L464.91 610.6 L466.68 614.6 L467.3 616" fill="none" stroke="#1d6e52" stroke-width="1.9" stroke-linejoin="round"/>
<path d="M171.9 92.7 L204.2 102.8 M199.3 92.7 L227.7 102.8 M217.6 92.1 L242.4 102.8 M248.6 94 L268.6 102.8 M268.3 94 L283.6 102.8 M285.6 94 L299.6 102.8 M302 93 L312.9 102.8 M336.8 94 L322.2 102.8 M351.4 93 L328.5 102.8 M371.6 94 L342.8 102.8 M387.5 94 L352.5 102.8 M403 94 L362.1 102.8 M420.4 93 L369 102.8 M435 92.7 L382.7 102.8" fill="none" stroke="#222" stroke-width="1.25"/>
<g font-family="'Liberation Sans', sans-serif" font-size="15.3" fill="#1a1a1a" stroke="#1a1a1a" stroke-width="0.45" opacity="0.999">
<g transform="translate(174.3 90.3) rotate(-90)"><text x="0" y="0">0.250 A</text></g>
<g transform="translate(203 90.3) rotate(-90)"><text x="0" y="0">0.375 A</text></g>
<g transform="translate(222.5 90.3) rotate(-90)"><text x="0" y="0">0.500 A</text></g>
<g transform="translate(254.5 90.3) rotate(-90)"><text x="0" y="0">0.750 A</text></g>
<g transform="translate(273.7 90.3) rotate(-90)"><path transform="translate(0 0) scale(0.015300000000000001 -0.015300000000000001)" d="M359 0H271V505H101V568C199 573 262 601 287 709H359Z" stroke-width="29.41"/><text x="6.3" y="0">.</text><text x="9.84" y="0">0</text><text x="18.74" y="0">0</text><text x="28.14" y="0"> </text><text x="33.18" y="0">A</text></g>
<g transform="translate(291.1 90.3) rotate(-90)"><path transform="translate(0 0) scale(0.015300000000000001 -0.015300000000000001)" d="M359 0H271V505H101V568C199 573 262 601 287 709H359Z" stroke-width="29.41"/><text x="6.3" y="0">.</text><text x="9.84" y="0">2</text><text x="18.74" y="0">5</text><text x="28.14" y="0"> </text><text x="33.18" y="0">A</text></g>
<g transform="translate(308.8 90.3) rotate(-90)"><path transform="translate(0 0) scale(0.015300000000000001 -0.015300000000000001)" d="M359 0H271V505H101V568C199 573 262 601 287 709H359Z" stroke-width="29.41"/><text x="6.3" y="0">.</text><text x="9.84" y="0">5</text><text x="18.74" y="0">0</text><text x="28.14" y="0"> </text><text x="33.18" y="0">A</text></g>
<g transform="translate(343.2 90.3) rotate(-90)"><path transform="translate(0 0) scale(0.015300000000000001 -0.015300000000000001)" d="M359 0H271V505H101V568C199 573 262 601 287 709H359Z" stroke-width="29.41"/><text x="5.7" y="0">.</text><text x="9.34" y="0">7</text><text x="19.54" y="0">5</text><text x="29.14" y="0"> </text><text x="34.18" y="0">A</text></g>
<g transform="translate(361.4 90.3) rotate(-90)"><text x="0" y="0">2.00 A</text></g>
<g transform="translate(377.9 90.3) rotate(-90)"><text x="0" y="0">2.50 A</text></g>
<g transform="translate(393.9 90.3) rotate(-90)"><text x="0" y="0">3.00 A</text></g>
<g transform="translate(409.5 90.3) rotate(-90)"><text x="0" y="0">3.50 A</text></g>
<g transform="translate(425 90.3) rotate(-90)"><text x="0" y="0">4.00 A</text></g>
<g transform="translate(439.6 90.3) rotate(-90)"><text x="0" y="0">5.00 A</text></g>
<path transform="translate(88.71 108.9) scale(0.015300000000000001 -0.015300000000000001)" d="M359 0H271V505H101V568C199 573 262 601 287 709H359Z" stroke-width="29.41"/><text x="97.61" y="108.9">00</text>
<path transform="translate(97.61 211) scale(0.015300000000000001 -0.015300000000000001)" d="M359 0H271V505H101V568C199 573 262 601 287 709H359Z" stroke-width="29.41"/><text x="106.5" y="211">0</text>
<path transform="translate(107.3 311.6) scale(0.015300000000000001 -0.015300000000000001)" d="M359 0H271V505H101V568C199 573 262 601 287 709H359Z" stroke-width="29.41"/>
<text x="93.66" y="412.8">0.</text><path transform="translate(107 412.8) scale(0.015300000000000001 -0.015300000000000001)" d="M359 0H271V505H101V568C199 573 262 601 287 709H359Z" stroke-width="29.41"/>
<text x="87.06" y="518.9">0.0</text><path transform="translate(109.3 518.9) scale(0.015300000000000001 -0.015300000000000001)" d="M359 0H271V505H101V568C199 573 262 601 287 709H359Z" stroke-width="29.41"/>
<text x="77.57" y="617.9">0.00</text><path transform="translate(108.7 617.9) scale(0.015300000000000001 -0.015300000000000001)" d="M359 0H271V505H101V568C199 573 262 601 287 709H359Z" stroke-width="29.41"/>
<text x="116.48" y="638.4">0.</text><path transform="translate(129.82 638.4) scale(0.015300000000000001 -0.015300000000000001)" d="M359 0H271V505H101V568C199 573 262 601 287 709H359Z" stroke-width="29.41"/>
<path transform="translate(260.05 638.4) scale(0.015300000000000001 -0.015300000000000001)" d="M359 0H271V505H101V568C199 573 262 601 287 709H359Z" stroke-width="29.41"/>
<path transform="translate(390.1 638.4) scale(0.015300000000000001 -0.015300000000000001)" d="M359 0H271V505H101V568C199 573 262 601 287 709H359Z" stroke-width="29.41"/><text x="399" y="638.4">0</text>
<path transform="translate(520.86 638.4) scale(0.015300000000000001 -0.015300000000000001)" d="M359 0H271V505H101V568C199 573 262 601 287 709H359Z" stroke-width="29.41"/><text x="529.75" y="638.4">00</text>
</g>
<g font-family="'Liberation Sans', sans-serif" font-size="16" font-weight="bold" fill="#1a1a1a" stroke="#1a1a1a" stroke-width="0.2" opacity="0.999">
<text x="234.2" y="659.8" letter-spacing="0.26">CURRENT IN AMPERES</text>
<text transform="translate(96.6 307) rotate(-90)" text-anchor="middle">TIME IN SECONDS</text>
</g>
</svg>
</body></html>
